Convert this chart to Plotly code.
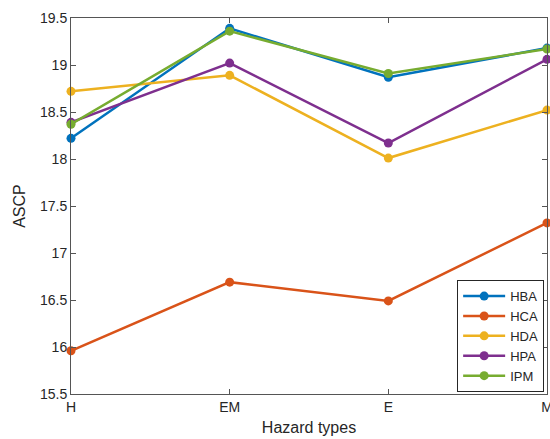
import plotly.graph_objects as go

categories = ["H", "EM", "E", "M"]
HBA = [18.22, 19.39, 18.87, 19.18]
HCA = [15.96, 16.69, 16.49, 17.32]
HDA = [18.72, 18.89, 18.01, 18.52]
HPA = [18.39, 19.02, 18.17, 19.06]
IPM = [18.37, 19.36, 18.91, 19.17]
y_ticks = [15.5, 16, 16.5, 17, 17.5, 18, 18.5, 19, 19.5]

series = [("HBA", HBA, "#0072BD"), ("HCA", HCA, "#D95319"), ("HDA", HDA, "#EDB120"),
          ("HPA", HPA, "#7E2F8E"), ("IPM", IPM, "#77AC30")]

fig = go.Figure()
for name, vals, col in series:
    fig.add_trace(go.Scatter(x=categories, y=vals, name=name, mode="lines+markers",
                             line=dict(color=col, width=2.5),
                             marker=dict(color=col, size=9), cliponaxis=False))

FONT = "Liberation Sans, Arial"
axis_common = dict(showline=True, linecolor="#555555", linewidth=1, mirror="ticks",
                   ticks="inside", ticklen=5, tickcolor="#555555", showgrid=False,
                   zeroline=False, automargin=False,
                   tickfont=dict(family=FONT, size=14, color="#262626"))

fig.update_layout(
    width=550, height=439,
    margin=dict(l=71, r=3, t=18, b=45),
    plot_bgcolor="white", paper_bgcolor="white",
    xaxis=dict(range=[0, 3], title=dict(text="Hazard types", standoff=8,
               font=dict(family=FONT, size=16, color="#262626")), **axis_common),
    yaxis=dict(range=[15.5, 19.5], tickvals=y_ticks, ticktext=[f"{v:g}" for v in y_ticks],
               title=dict(text="ASCP", standoff=10,
               font=dict(family=FONT, size=16, color="#262626")), **axis_common),
    legend=dict(x=0.994, y=0.005, xanchor="right", yanchor="bottom",
                bordercolor="#262626", borderwidth=1, bgcolor="white",
                font=dict(family=FONT, size=13, color="#262626"),
                itemwidth=42, tracegroupgap=0),
    showlegend=True,
)

fig.write_html("out.html", config={"displayModeBar": False},
               post_script="document.body.style.margin='0';document.body.style.overflow='hidden';")
